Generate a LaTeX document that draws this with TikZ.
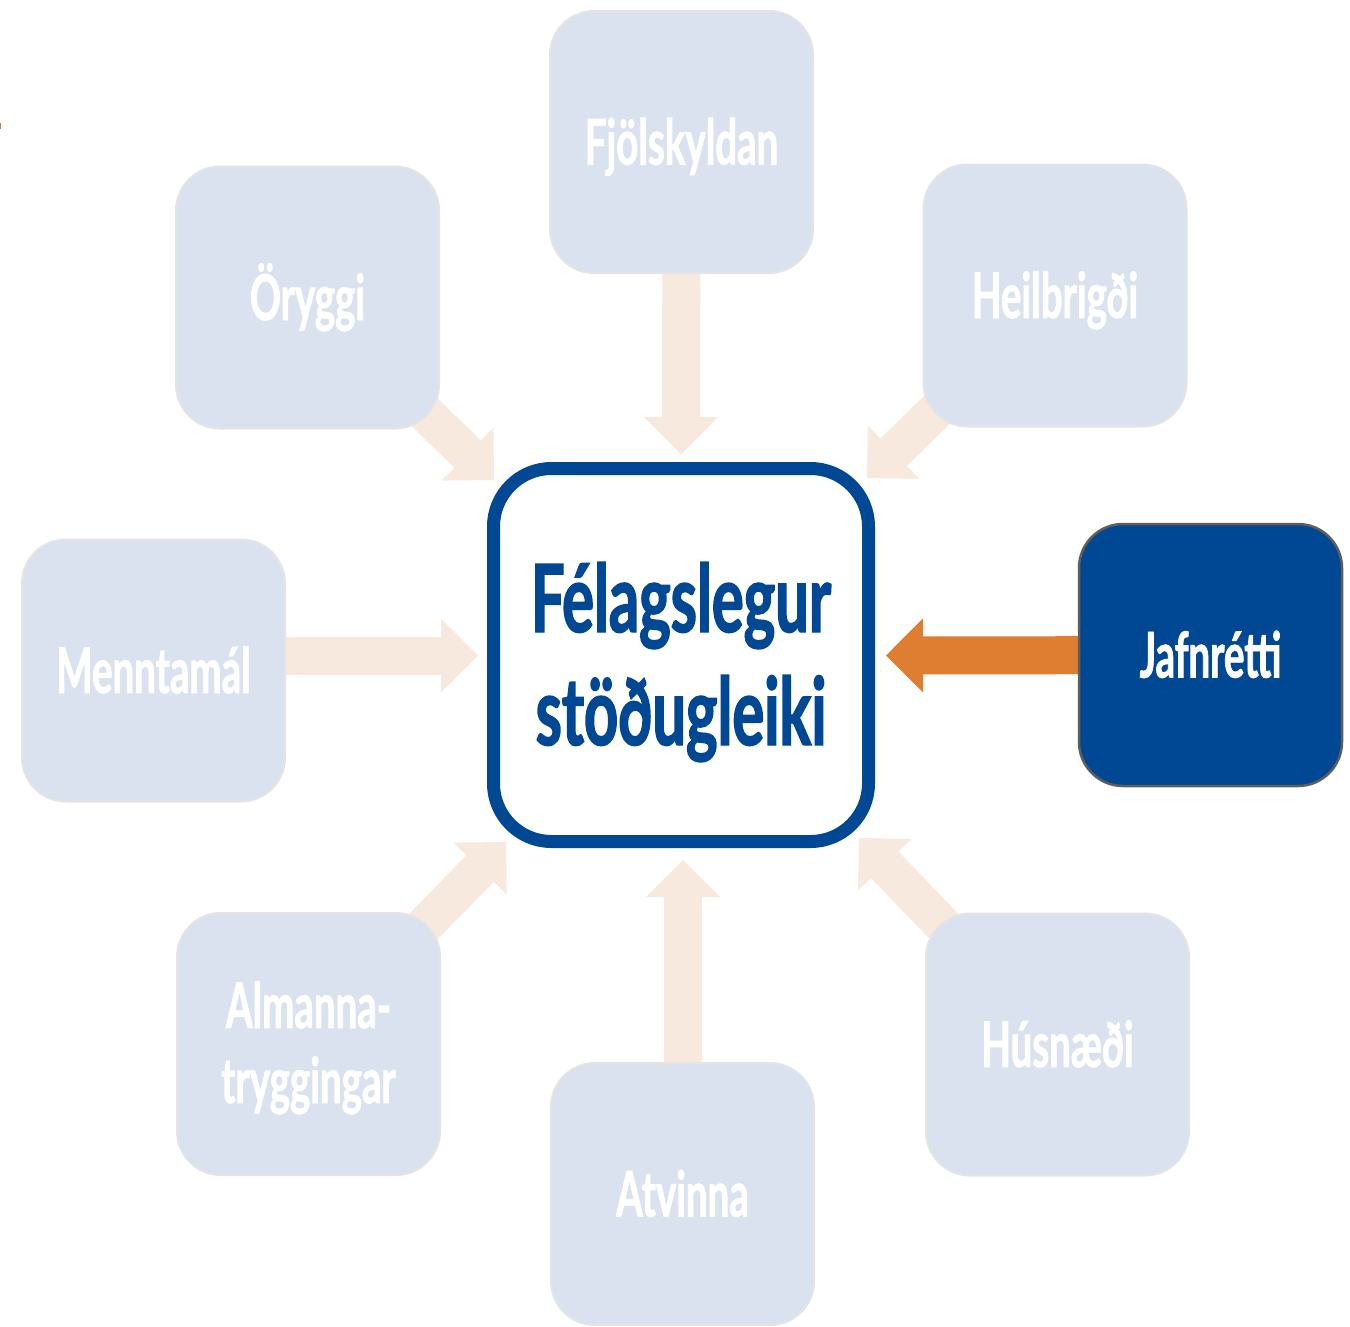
\documentclass[tikz,border=0pt]{standalone}
\usepackage{fontspec}
\newfontfamily\gill{Lato}[FakeStretch=0.61,FakeBold=1.2]
\newfontfamily\gillc{Lato}[FakeStretch=0.635,FakeBold=1.5]
\usetikzlibrary{arrows.meta}
\definecolor{boxfill}{HTML}{D9E2EE}
\definecolor{boxline}{HTML}{E4E4E4}
\definecolor{arrowlight}{HTML}{F8E9DE}
\definecolor{orangec}{HTML}{DF7D31}
\definecolor{darkblue}{HTML}{004893}
\definecolor{greyline}{HTML}{5E5E5E}
\pgfdeclarelayer{bg}
\pgfsetlayers{bg,main}
\begin{document}
\begin{tikzpicture}[x=1pt,y=-1pt,
  boxbase/.style={line width=2pt, rounded corners=44pt, minimum width=263pt,
    minimum height=262pt, inner sep=0pt, text=white,
    font=\gill\bfseries\fontsize{63}{75}\selectfont, text height=45pt, text depth=0pt},
  lightbox/.style={boxbase, draw=boxline, fill=boxfill},
  darkbox/.style={boxbase, draw=greyline, line width=2.5pt, fill=darkblue},
  centerbox/.style={draw=darkblue, line width=13pt, fill=white, rounded corners=58pt,
    minimum width=375pt, minimum height=373pt, inner sep=0pt, text=darkblue,
    font=\gillc\bfseries\fontsize{94}{113}\selectfont, text height=180pt, text depth=0pt},
  blockarrow/.style={draw=arrowlight, line width=38pt,
    -{Triangle[length=37pt,width=74pt,line width=0pt]}},
  hotarrow/.style={blockarrow, draw=orangec}
]
\useasboundingbox (0,0) rectangle (1350,1326);

\node[centerbox] (c) at (681,655)
  {\begin{tabular}[b]{@{}c@{}}Félagslegur\\stöðugleiki\end{tabular}};
\node[lightbox] (fj) at (681.5,142) {Fjölskyldan};
\node[lightbox] (or) at (307.5,297.5) {Öryggi};
\node[lightbox] (he) at (1055,295.5) {Heilbrigði};
\node[lightbox] (me) at (153.5,670.5) {Menntamál};
\node[darkbox]  (ja) at (1210.5,655) {Jafnrétti};
\node[lightbox, text height=118pt] (al) at (308.5,1044)
  {\begin{tabular}[b]{@{}c@{}}Almanna-\\tryggingar\end{tabular}};
\node[lightbox] (at) at (682.5,1194) {Atvinna};
\node[lightbox] (hu) at (1057.5,1044.5) {Húsnæði};

\coordinate (tfj) at (681,454);
\coordinate (tor) at (494,480);
\coordinate (the) at (867,478);
\coordinate (tme) at (478,655.5);
\coordinate (tja) at (886,655.5);
\coordinate (tal) at (506,842);
\coordinate (tat) at (683,860);
\coordinate (thu) at (859,838);

\begin{pgfonlayer}{bg}
\fill[white] (0,0) rectangle (1350,1326);
\fill[orangec] (0,123) rectangle (1.3,129);
\draw[blockarrow] (fj.center) -- (tfj);
\draw[blockarrow] (or.center) -- (tor);
\draw[blockarrow] (he.center) -- (the);
\draw[blockarrow] (me.center |- tme) -- (tme);
\draw[hotarrow]   (ja.center) -- (tja);
\draw[blockarrow] (al.center) -- (tal);
\draw[blockarrow] (at.center -| tat) -- (tat);
\draw[blockarrow] (hu.center) -- (thu);
\end{pgfonlayer}
\end{tikzpicture}
\end{document}
